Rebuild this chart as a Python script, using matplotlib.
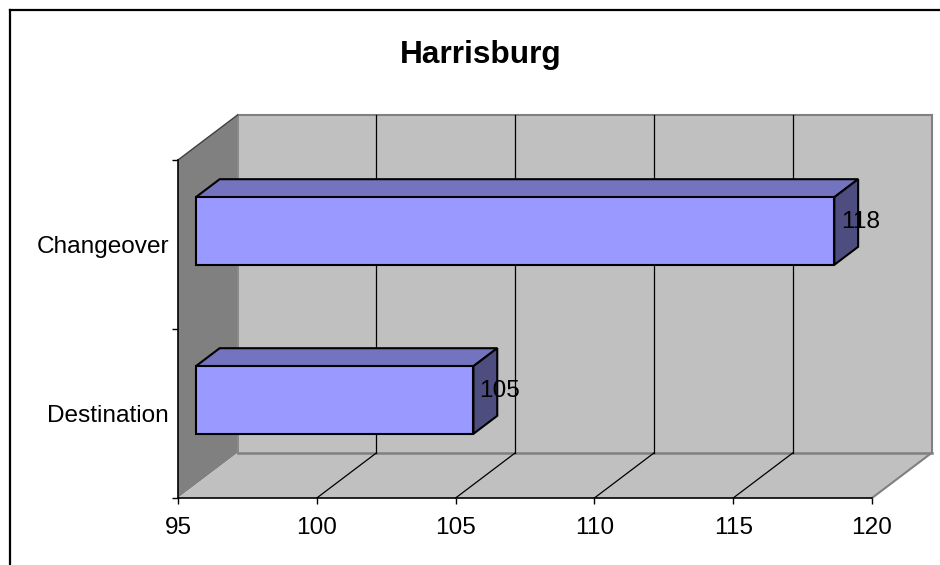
import matplotlib
matplotlib.use("Agg")
import matplotlib.pyplot as plt
import matplotlib.transforms as mtransforms
from matplotlib.patches import Polygon
from matplotlib.lines import Line2D
import numpy as np

# ---------------- data ----------------
title = "Harrisburg"
categories = ["Destination", "Changeover"]
values = [105, 118]
x_ticks = [95, 100, 105, 110, 115, 120]
x_min, x_max = 95, 120

# ---------------- style ----------------
plt.rcParams['font.family'] = ['Liberation Sans', 'DejaVu Sans']
W, H = 940, 565
DPI = 100
DX, DY = 59.5, 45.0          # depth offset of the 3-D box (pixels)
BAR_HALF = 0.2               # half bar thickness (category units)
BAR_D0, BAR_D1 = 0.3, 0.7    # bar depth range (fraction of box depth)
FS = 17.6

fig = plt.figure(figsize=(W / DPI, H / DPI), dpi=DPI)
fig.patch.set_facecolor("white")

# front plane of the chart: x 178..872 px, y 160..498 px (from top)
left, right, top, bottom = 178, 872, 160, 498
ax = fig.add_axes([left / W, (H - bottom) / H, (right - left) / W, (bottom - top) / H])
ax.set_xlim(x_min, x_max)
ax.set_ylim(0, len(categories))
ax.patch.set_visible(False)
for s in ("top", "right"):
    ax.spines[s].set_visible(False)
ax.spines["left"].set_color("black")
ax.spines["bottom"].set_color("black")
ax.spines["left"].set_linewidth(1.2)
ax.spines["bottom"].set_linewidth(1.2)
ax.spines["left"].set_zorder(6)
ax.spines["bottom"].set_zorder(6)

ax.set_xticks(x_ticks)
ax.set_xticklabels([str(t) for t in x_ticks], fontsize=FS)
ax.tick_params(axis="x", direction="out", length=4.5, width=1, pad=9.0, color="black")
ax.set_yticks(np.arange(len(categories) + 1))
ax.set_yticklabels([])
ax.tick_params(axis="y", which="major", direction="out", length=4.5, width=1, color="black")
ax.set_yticks(np.arange(len(categories)) + 0.5, minor=True)
ax.set_yticklabels(categories, minor=True, fontsize=FS)
ax.tick_params(axis="y", which="minor", length=0, pad=6.5)

fig.canvas.draw()


def P(x, y, d):
    px, py = ax.transData.transform((x, y))
    return (px + d * DX, py + d * DY)


ident = mtransforms.IdentityTransform()


def poly(pts, fc, ec="none", lw=0, z=1):
    p = Polygon(pts, closed=True, facecolor=fc, edgecolor=ec, linewidth=lw,
                transform=ident, clip_on=False, zorder=z, joinstyle="miter")
    ax.add_artist(p)


def line(p0, p1, color, lw, z=2):
    l = Line2D([p0[0], p1[0]], [p0[1], p1[1]], color=color, linewidth=lw,
               transform=ident, clip_on=False, zorder=z)
    ax.add_artist(l)


ymax = len(categories)
wall = "#C0C0C0"
side = "#808080"

# back wall
poly([P(x_min, 0, 1), P(x_max, 0, 1), P(x_max, ymax, 1), P(x_min, ymax, 1)], wall, z=1)
# left wall
poly([P(x_min, 0, 0), P(x_min, ymax, 0), P(x_min, ymax, 1), P(x_min, 0, 1)], side, z=1)
# floor
poly([P(x_min, 0, 0), P(x_max, 0, 0), P(x_max, 0, 1), P(x_min, 0, 1)], wall, z=1)

# wall edges
line(P(x_min, ymax, 1), P(x_max, ymax, 1), "#808080", 1.5)
line(P(x_max, ymax, 1), P(x_max, 0, 1), "#808080", 1.5)
line(P(x_min, 0, 1), P(x_max, 0, 1), "#808080", 1.8)
line(P(x_min, 0, 1), P(x_min, ymax, 1), "#808080", 1.2)
line(P(x_max, 0, 0), P(x_max, 0, 1), "#808080", 1.5)
line(P(x_min, ymax, 0), P(x_min, ymax, 1), "#404040", 1.0)

# gridlines on back wall and floor
for t in x_ticks[1:-1]:
    line(P(t, 0, 1), P(t, ymax, 1), "black", 0.9)
    line(P(t, 0, 0), P(t, 0, 1), "black", 0.9)

# bars
front_c = "#9999FF"
top_c = "#7373BF"
side_c = "#4D4D80"
for i, (cat, v) in enumerate(zip(categories, values)):
    c = i + 0.5
    y0, y1 = c - BAR_HALF, c + BAR_HALF
    poly([P(x_min, y1, BAR_D0), P(v, y1, BAR_D0), P(v, y1, BAR_D1), P(x_min, y1, BAR_D1)],
         top_c, "black", 1.5, z=4)
    poly([P(v, y0, BAR_D0), P(v, y1, BAR_D0), P(v, y1, BAR_D1), P(v, y0, BAR_D1)],
         side_c, "black", 1.5, z=4)
    poly([P(x_min, y0, BAR_D0), P(v, y0, BAR_D0), P(v, y1, BAR_D0), P(x_min, y1, BAR_D0)],
         front_c, "black", 1.5, z=5)
    # data label
    lx, ly = P(v, c, 0.5)
    ax.text(lx + 14, ly, str(v), transform=ident, ha="center", va="center",
            fontsize=FS, color="black", zorder=7, clip_on=False)

# title
fig.text(481 / W, 1 - 63 / H, title, ha="center", va="baseline",
         fontsize=22.8, fontweight="bold", color="black")

# outer chart border (top and left visible)
fig.add_artist(Line2D([9.5 / W, 9.5 / W], [0, 1 - 10 / H], color="black", lw=1.6,
                      transform=fig.transFigure))
fig.add_artist(Line2D([9.5 / W, 1], [1 - 10 / H, 1 - 10 / H], color="black", lw=1.6,
                      transform=fig.transFigure))

fig.savefig("out.png", dpi=DPI)
